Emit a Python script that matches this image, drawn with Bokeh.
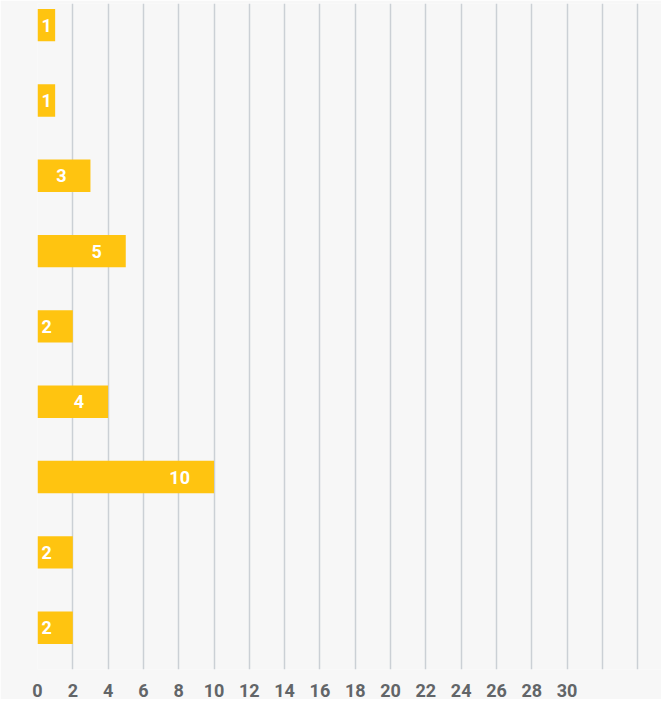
from bokeh.plotting import figure
from bokeh.models import Range1d, FixedTicker, ColumnDataSource
from bokeh.embed import file_html
from bokeh.resources import INLINE
from bokeh.core.properties import value

# Data (top to bottom)
values = [1, 1, 3, 5, 2, 4, 10, 2, 2]
positions = list(range(len(values)))
tick_values = list(range(0, 31, 2))
grid_values = list(range(0, 35, 2))

BAR = "#ffc410"
BG = "#f7f7f7"
GRID = "#cbd0d5"
LABEL = "#626568"

p = figure(width=661, height=699, output_backend="svg", toolbar_location=None,
           x_range=Range1d(0, 35.35), y_range=Range1d(8.555, -0.287),
           min_border_left=37, min_border_right=0, min_border_top=3, min_border_bottom=24)
p.background_fill_color = BG
p.border_fill_color = BG
p.outline_line_color = None

src = ColumnDataSource(dict(y=positions, v=values, t=[str(v) for v in values]))
p.hbar(y="y", left=0, right="v", height=0.43, source=src, fill_color=BAR, line_color=None)

small = [i for i, v in enumerate(values) if v <= 2]
big = [i for i, v in enumerate(values) if v > 2]
src_small = ColumnDataSource(dict(y=[positions[i] for i in small], x=[0] * len(small),
                                  t=[str(values[i]) for i in small]))
src_big = ColumnDataSource(dict(y=[positions[i] for i in big], x=[values[i] for i in big],
                                t=[str(values[i]) for i in big]))
p.text(x="x", y="y", text="t", source=src_small, text_align="left", text_baseline="middle",
       x_offset=4, text_color="white", text_font=value("Roboto"), text_font_style="bold",
       text_font_size="18px")
p.text(x="x", y="y", text="t", source=src_big, text_align="right", text_baseline="middle",
       x_offset=-24, text_color="white", text_font=value("Roboto"), text_font_style="bold",
       text_font_size="18px")

p.xaxis.ticker = FixedTicker(ticks=tick_values)
p.xgrid.ticker = FixedTicker(ticks=grid_values)
p.xgrid.grid_line_color = GRID
p.xgrid.grid_line_width = 1.5
p.ygrid.grid_line_color = None
p.xaxis.axis_line_color = None
p.xaxis.major_tick_line_color = None
p.xaxis.minor_tick_line_color = None
p.xaxis.major_label_standoff = 8
p.xaxis.major_label_text_font = "Roboto"
p.xaxis.major_label_text_font_style = "bold"
p.xaxis.major_label_text_font_size = "18px"
p.xaxis.major_label_text_color = LABEL
p.yaxis.visible = False

open("out.html", "w").write(file_html(p, INLINE))
